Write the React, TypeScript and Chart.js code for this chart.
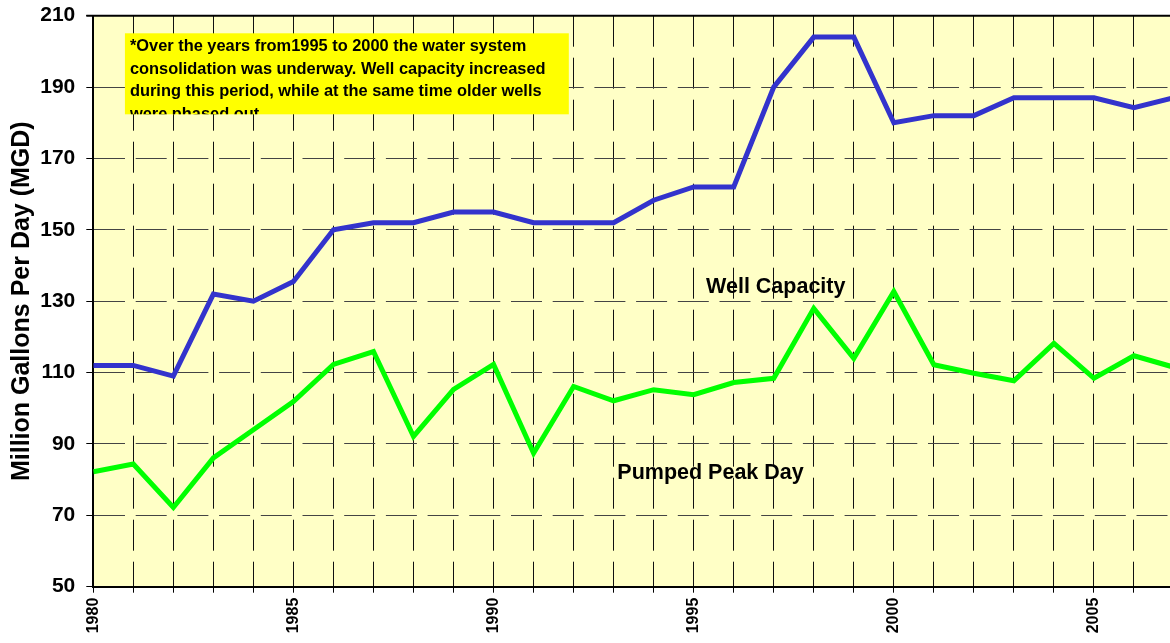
import React, { useEffect, useRef } from 'react';
import { Chart, registerables } from 'chart.js';

Chart.register(...registerables);

// ---- data ----
const years = [
  1980, 1981, 1982, 1983, 1984, 1985, 1986, 1987, 1988, 1989,
  1990, 1991, 1992, 1993, 1994, 1995, 1996, 1997, 1998, 1999,
  2000, 2001, 2002, 2003, 2004, 2005, 2006, 2007,
];
const wellCapacity = [
  112, 112, 109, 132, 130, 135.5, 150, 152, 152, 155,
  155, 152, 152, 152, 158.3, 162, 162, 190, 204, 204,
  180, 182, 182, 187, 187, 187, 184.2, 187,
];
const pumpedPeakDay = [
  82.2, 84.4, 72.2, 86.1, 94, 101.9, 112.3, 115.9, 92.1, 105.3,
  112.3, 87.4, 106.1, 102.1, 105.2, 103.8, 107.2, 108.4, 128, 114,
  132.7, 112.2, 109.8, 107.7, 118.2, 108.4, 114.7, 111.5,
];
const yTicks = [50, 70, 90, 110, 130, 150, 170, 190, 210];
const xLabelYears = [1980, 1985, 1990, 1995, 2000, 2005];
const yTitle = 'Million Gallons Per Day (MGD)';
const seriesLabels = ['Well Capacity', 'Pumped Peak Day'];
const noteLines = [
  '*Over the years from1995 to 2000 the water system',
  'consolidation was underway. Well capacity increased',
  'during this period, while at the same time older wells',
  'were phased out',
];

const FONT = '"Liberation Sans", Arial, Helvetica, sans-serif';

const zeroPad = (s: any) => {
  s.paddingTop = 0;
  s.paddingBottom = 0;
  s.paddingLeft = 0;
  s.paddingRight = 0;
};

const decorPlugin = {
  id: 'decor',
  beforeDraw(chart: any) {
    const { ctx, chartArea: a } = chart;
    ctx.save();
    ctx.fillStyle = '#FFFFC6';
    ctx.fillRect(a.left, a.top, a.right - a.left, a.bottom - a.top);
    ctx.restore();
  },
  afterDatasetsDraw(chart: any) {
    const { ctx, chartArea: a, scales } = chart;
    const xs = scales.x;
    const ys = scales.y;
    ctx.save();
    // top frame line
    ctx.strokeStyle = '#000';
    ctx.lineWidth = 2;
    ctx.beginPath();
    ctx.moveTo(a.left - 7, a.top);
    ctx.lineTo(a.right, a.top);
    ctx.stroke();

    // note box
    const bx1 = xs.getPixelForValue(1980.79);
    const bx2 = xs.getPixelForValue(1991.88);
    const by1 = ys.getPixelForValue(205.07);
    const by2 = ys.getPixelForValue(182.37);
    ctx.fillStyle = '#FFFF00';
    ctx.fillRect(bx1, by1, bx2 - bx1, by2 - by1);
    ctx.save();
    ctx.beginPath();
    ctx.rect(bx1, by1, bx2 - bx1, by2 - by1);
    ctx.clip();
    ctx.fillStyle = '#000';
    ctx.font = 'bold 16.4px ' + FONT;
    ctx.textBaseline = 'middle';
    ctx.textAlign = 'left';
    noteLines.forEach((t, i) => {
      ctx.fillText(t, bx1 + 5, by1 + 13.5 + i * 22.4);
    });
    ctx.restore();

    // series labels
    ctx.fillStyle = '#000';
    ctx.font = 'bold 21.5px ' + FONT;
    ctx.textAlign = 'center';
    ctx.textBaseline = 'middle';
    ctx.fillText(seriesLabels[0], xs.getPixelForValue(1997.05), ys.getPixelForValue(133.9));
    ctx.fillText(seriesLabels[1], xs.getPixelForValue(1995.42), ys.getPixelForValue(81.8));
    ctx.restore();
  },
};

export default function App() {
  const ref = useRef<HTMLCanvasElement | null>(null);

  useEffect(() => {
    if (!ref.current) return;
    const chart = new Chart(ref.current, {
      type: 'line',
      data: {
        datasets: [
          {
            label: seriesLabels[0],
            data: years.map((y, i) => ({ x: y, y: wellCapacity[i] })),
            borderColor: '#3333CC',
            backgroundColor: '#3333CC',
            borderWidth: 5,
            pointRadius: 0,
            tension: 0,
            fill: false,
          },
          {
            label: seriesLabels[1],
            data: years.map((y, i) => ({ x: y, y: pumpedPeakDay[i] })),
            borderColor: '#00FF00',
            backgroundColor: '#00FF00',
            borderWidth: 5,
            pointRadius: 0,
            tension: 0,
            fill: false,
          },
        ],
      },
      options: {
        responsive: false,
        animation: false,
        devicePixelRatio: 1,
        layout: { padding: { top: 15.7, right: 2, left: 0, bottom: 0 } },
        plugins: {
          legend: { display: false },
          tooltip: { enabled: false },
        },
        scales: {
          x: {
            type: 'linear',
            min: 1980,
            max: 2007,
            afterBuildTicks: (s: any) => {
              s.ticks = years.map((v) => ({ value: v }));
            },
            afterFit: (s: any) => {
              s.height = 56.3;
              zeroPad(s);
            },
            ticks: {
              autoSkip: false,
              maxRotation: 90,
              minRotation: 90,
              padding: 5,
              color: '#000',
              font: { family: FONT, size: 16, weight: 'bold' },
              callback: (v: any) => (xLabelYears.includes(Number(v)) ? String(v) : ''),
            },
            grid: {
              color: '#111',
              lineWidth: 1,
              drawTicks: true,
              tickLength: 6,
              tickColor: '#000',
              tickWidth: 1,
            },
            border: { display: true, color: '#000', width: 2, dash: [31, 11], dashOffset: 0 },
          },
          y: {
            type: 'linear',
            min: 50,
            max: 210,
            afterBuildTicks: (s: any) => {
              s.ticks = yTicks.map((v) => ({ value: v }));
            },
            afterFit: (s: any) => {
              s.width = 93.3;
              zeroPad(s);
            },
            ticks: {
              color: '#000',
              padding: 11,
              font: { family: FONT, size: 21, weight: 'bold' },
            },
            grid: {
              color: '#444',
              lineWidth: 1,
              drawTicks: true,
              tickLength: 7,
              tickColor: '#000',
              tickWidth: 1,
            },
            border: { display: true, color: '#000', width: 2, dash: [31, 10.7], dashOffset: 0 },
            title: {
              display: true,
              text: yTitle,
              color: '#000',
              font: { family: FONT, size: 25, weight: 'bold' },
              padding: { top: 7, bottom: 0 },
            },
          },
        },
      } as any,
      plugins: [decorPlugin],
    });
    return () => chart.destroy();
  }, []);

  return (
    <div
      style={{
        position: 'fixed',
        left: 0,
        top: 0,
        width: 1170,
        height: 643,
        overflow: 'hidden',
        background: '#fff',
      }}
    >
      <canvas ref={ref} width={1176} height={643} style={{ width: 1176, height: 643, display: 'block' }} />
    </div>
  );
}
